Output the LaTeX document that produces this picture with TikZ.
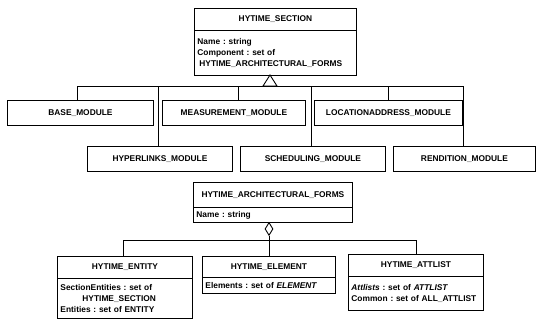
\documentclass[tikz,border=0pt]{standalone}
\usepackage{fontspec}
\setmainfont{Liberation Sans}
\usetikzlibrary{shapes.geometric}

\tikzset{
  umlfont/.style={font=\fontsize{8.4}{11}\selectfont\bfseries\frenchspacing},
  box/.style={draw, line width=0.9pt, inner sep=0pt, anchor=north west, umlfont},
  attrbox/.style={box, inner xsep=3bp, align=left},
  link/.style={line width=0.9pt},
}

\begin{document}
\begin{tikzpicture}[x=1bp, y=-1bp]
\useasboundingbox (0,0) rectangle (536,322);

% ---------- HYTIME_SECTION ----------
\node[box, minimum width=162bp, minimum height=22bp] (secT) at (194,8) {HYTIME\_SECTION};
\node[attrbox, minimum width=162bp, minimum height=45bp, text width=156bp] (secA) at (194,30)
  {Name : string\\Component : set of\\\hspace*{2bp}HYTIME\_ARCHITECTURAL\_FORMS};

% ---------- architectural modules ----------
\node[box, minimum width=146bp, minimum height=25bp] (base)  at (7,100)   {BASE\_MODULE};
\node[box, minimum width=143bp, minimum height=25bp] (meas)  at (162,100) {MEASUREMENT\_MODULE};
\node[box, minimum width=148bp, minimum height=25bp] (loc)   at (314,100) {LOCATIONADDRESS\_MODULE};
\node[box, minimum width=145bp, minimum height=25bp] (hyper) at (87,146)  {HYPERLINKS\_MODULE};
\node[box, minimum width=145bp, minimum height=25bp] (sched) at (240,146) {SCHEDULING\_MODULE};
\node[box, minimum width=142bp, minimum height=25bp] (rend)  at (393,146) {RENDITION\_MODULE};

% generalisation: triangle below HYTIME_SECTION and the shared bus
\coordinate (genApex) at (270,75);
\coordinate (genBase) at (270,86);
\draw[link] (genApex) -- ([xshift=-7bp]genBase) -- ([xshift=7bp]genBase) -- cycle;
\draw[link] (genBase) -| ([xshift=-3bp]base.north);
\draw[link] (genBase) -| ([xshift=-2bp]hyper.north);
\draw[link] (genBase) -| ([xshift=4bp]meas.north);
\draw[link] (genBase) -| ([xshift=-2bp]sched.north);
\draw[link] (genBase) -| (loc.north);
\draw[link] (genBase) -| ([xshift=-1bp]rend.north);

% ---------- HYTIME_ARCHITECTURAL_FORMS ----------
\node[box, minimum width=159bp, minimum height=25bp] (afT) at (193,182) {HYTIME\_ARCHITECTURAL\_FORMS};
\node[attrbox, minimum width=159bp, minimum height=15bp, text width=153bp] (afA) at (193,207) {Name : string};

% aggregation diamond and bus
\node[draw, line width=0.9pt, diamond, inner sep=0pt, minimum width=8bp, minimum height=13bp,
      anchor=north, fill=white] (agg) at (269,222) {};
\coordinate (aggBus) at (269,240);
\draw[link] (agg.south) -- (aggBus);

% ---------- HYTIME_ENTITY ----------
\node[box, minimum width=135bp, minimum height=22bp] (entT) at (57,256) {HYTIME\_ENTITY};
\node[attrbox, minimum width=135bp, minimum height=40bp, text width=129bp] (entA) at (57,278)
  {SectionEntities : set of\\\hspace*{22bp}HYTIME\_SECTION\\Entities : set of ENTITY};

% ---------- HYTIME_ELEMENT ----------
\node[box, minimum width=133bp, minimum height=21bp] (elT) at (202,256) {HYTIME\_ELEMENT};
\node[attrbox, minimum width=133bp, minimum height=16bp, text width=127bp] (elA) at (202,277)
  {Elements : set of \textit{ELEMENT}};

% ---------- HYTIME_ATTLIST ----------
\node[box, minimum width=135bp, minimum height=22bp] (atT) at (348,254) {HYTIME\_ATTLIST};
\node[attrbox, minimum width=135bp, minimum height=34bp, text width=129bp] (atA) at (348,276)
  {\textit{Attlists} : set of \textit{ATTLIST}\\Common : set of ALL\_ATTLIST};

\draw[link] (aggBus) -| ([xshift=-2bp]entT.north);
\draw[link] (aggBus) -- (elT.north -| aggBus);
\draw[link] (aggBus) -| (atT.north);
\end{tikzpicture}
\end{document}
